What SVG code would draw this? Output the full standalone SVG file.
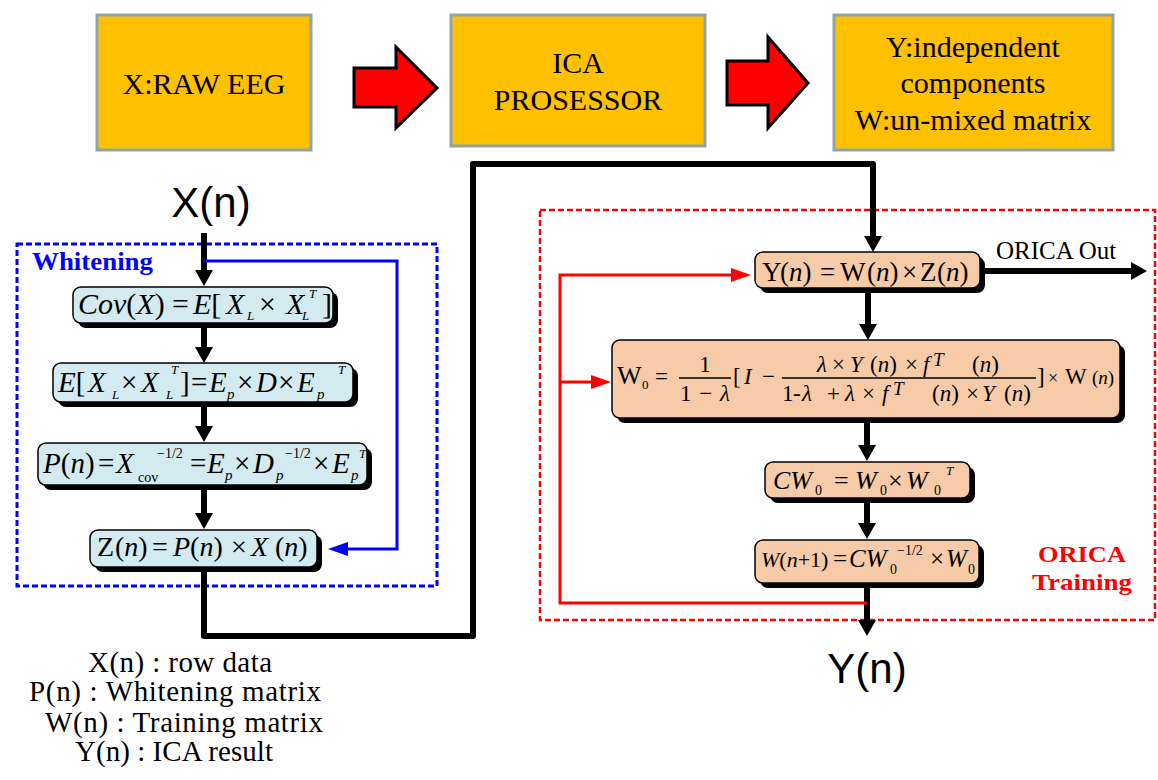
<svg xmlns="http://www.w3.org/2000/svg" width="1158" height="780" viewBox="0 0 1158 780">
<style>
.top{fill:#FFC000;stroke:#8DA5AA;stroke-width:3}
.ra{fill:#FF0000;stroke:#000;stroke-width:3;stroke-linejoin:miter}
.bb{fill:#D3EAF0;stroke:#000;stroke-width:1.5}
.pb{fill:#F8CBA8;stroke:#000;stroke-width:1.5}
.sh{fill:#000}
.t30{font-family:"Liberation Serif",serif;font-size:30px;fill:#000;text-anchor:middle}
.m{font-family:"Liberation Serif",serif;font-style:italic;fill:#000}
.r{font-style:normal}
.big{font-family:"Liberation Sans",Arial,sans-serif;font-size:42px;fill:#000;text-anchor:middle}
.leg{font-family:"Liberation Serif",serif;font-size:29px;fill:#000}
.conn{fill:none;stroke:#000;stroke-width:6;stroke-linejoin:round}
.blue{fill:none;stroke:#0000FF;stroke-width:3}
.red{fill:none;stroke:#FF0000;stroke-width:3}
</style>
<defs>
<marker id="ah" markerUnits="userSpaceOnUse" markerWidth="16" markerHeight="18" refX="2" refY="9" orient="auto" viewBox="0 0 16 18"><path d="M0,0 L16,9 L0,18 z" fill="#000"/></marker>
<marker id="ahb" markerUnits="userSpaceOnUse" markerWidth="20" markerHeight="14" refX="1" refY="7" orient="auto" viewBox="0 0 20 14"><path d="M0,0 L20,7 L0,14 z" fill="#0000FF"/></marker>
<marker id="ahr" markerUnits="userSpaceOnUse" markerWidth="20" markerHeight="14" refX="1" refY="7" orient="auto" viewBox="0 0 20 14"><path d="M0,0 L20,7 L0,14 z" fill="#FF0000"/></marker>
</defs>
<rect width="1158" height="780" fill="#fff"/>

<g id="whitening-frame">
<rect x="17" y="244" width="420" height="342" fill="none" stroke="#0000FF" stroke-width="3" stroke-dasharray="6 3"/>
<text x="32" y="270" font-family="Liberation Serif,serif" font-weight="bold" font-size="25" fill="#0000FF" textLength="121" lengthAdjust="spacingAndGlyphs">Whitening</text>
</g>
<g id="orica-frame">
<rect x="540" y="210" width="615" height="410" fill="none" stroke="#FF0000" stroke-width="2.5" stroke-dasharray="6 3"/>
<text x="1082" y="562" font-family="Liberation Serif,serif" font-weight="bold" font-size="24" fill="#FF0000" text-anchor="middle" textLength="88" lengthAdjust="spacingAndGlyphs">ORICA</text>
<text x="1082" y="590" font-family="Liberation Serif,serif" font-weight="bold" font-size="24" fill="#FF0000" text-anchor="middle" textLength="100" lengthAdjust="spacingAndGlyphs">Training</text>
</g>

<g id="connectors">
<polygon class="ra" points="354,68 396,68 396,47 437,88 396,128 396,107 354,107"/>
<polygon class="ra" points="727,61 768,61 768,37 808,83 768,128 768,105 727,105"/>
<line class="conn" x1="204" y1="233" x2="204" y2="272" marker-end="url(#ah)"/>
<line class="conn" x1="204" y1="323" x2="204" y2="349" marker-end="url(#ah)"/>
<line class="conn" x1="204" y1="402" x2="204" y2="428" marker-end="url(#ah)"/>
<line class="conn" x1="204" y1="486" x2="204" y2="515" marker-end="url(#ah)"/>
<polyline class="blue" points="204,261 397,261 397,549 347,549" marker-end="url(#ahb)"/>
<polyline class="conn" points="204,565 204,636 473,636 473,164 873,164 873,238" marker-end="url(#ah)"/>
<line class="conn" x1="868" y1="288" x2="868" y2="326" marker-end="url(#ah)"/>
<line class="conn" x1="867" y1="418" x2="867" y2="447" marker-end="url(#ah)"/>
<line class="conn" x1="867" y1="498" x2="867" y2="525" marker-end="url(#ah)"/>
<line class="conn" x1="867" y1="583" x2="867" y2="622" marker-end="url(#ah)"/>
<line class="conn" x1="980" y1="271" x2="1133" y2="271" marker-end="url(#ah)"/>
<polyline class="red" points="867,603 560,603 560,275 732,275" marker-end="url(#ahr)"/>
<line class="red" x1="560" y1="382" x2="592" y2="382" marker-end="url(#ahr)"/>
</g>

<g id="raw-eeg">
<rect class="top" x="97" y="15" width="214" height="135"/>
<text class="t30" x="204" y="94">X:RAW EEG</text>
</g>
<g id="ica-processor">
<rect class="top" x="451" y="15" width="254" height="131"/>
<text class="t30" x="578" y="73">ICA</text>
<text class="t30" x="578" y="110">PROSESSOR</text>
</g>
<g id="ica-output">
<rect class="top" x="834" y="15" width="279" height="135"/>
<text class="t30" x="973" y="57">Y:independent</text>
<text class="t30" x="973" y="93">components</text>
<text class="t30" x="973" y="130">W:un-mixed matrix</text>
</g>

<g id="xn-label"><text class="big" x="211" y="217">X(n)</text></g>
<g id="yn-label"><text class="big" x="867" y="683">Y(n)</text></g>

<g id="cov">
<rect class="sh" x="78" y="292" width="260" height="36" rx="8"/>
<rect class="bb" x="73" y="287" width="260" height="36" rx="8"/>
<text class="m" style="font-size:30px" y="314"><tspan x="78">Cov</tspan><tspan class="r">(</tspan>X<tspan class="r">)</tspan><tspan x="172" class="r">=</tspan><tspan x="193">E</tspan><tspan class="r">[</tspan><tspan x="226">X</tspan><tspan x="259" class="r">×</tspan><tspan x="286">X</tspan><tspan x="322" class="r">]</tspan></text>
<text class="m" style="font-size:13px" y="320"><tspan x="247">L</tspan><tspan x="302">L</tspan></text>
<text class="m" style="font-size:13px" x="309" y="298">T</text>
</g>
<g id="eig">
<rect class="sh" x="58" y="368" width="300" height="39" rx="8"/>
<rect class="bb" x="53" y="363" width="300" height="39" rx="8"/>
<text class="m" style="font-size:29px" y="392"><tspan x="58">E</tspan><tspan class="r">[</tspan><tspan x="88">X</tspan><tspan x="121" class="r">×</tspan><tspan x="141">X</tspan><tspan x="180" class="r">]</tspan><tspan x="191" class="r">=</tspan><tspan x="209">E</tspan><tspan x="237" class="r">×</tspan><tspan x="256">D</tspan><tspan x="278" class="r">×</tspan><tspan x="297">E</tspan></text>
<text class="m" style="font-size:13px" y="399"><tspan x="112">L</tspan><tspan x="166">L</tspan></text>
<text class="m" style="font-size:13px" y="374"><tspan x="171">T</tspan><tspan x="338">T</tspan></text>
<text class="m" style="font-size:15px" y="399"><tspan x="227">p</tspan><tspan x="317">p</tspan></text>
</g>
<g id="pn">
<rect class="sh" x="43" y="448" width="329" height="42" rx="8"/>
<rect class="bb" x="38" y="443" width="329" height="42" rx="8"/>
<text class="m" style="font-size:29px" y="473"><tspan x="43">P</tspan><tspan class="r">(</tspan>n<tspan class="r">)</tspan><tspan x="98" class="r">=</tspan><tspan x="116">X</tspan><tspan x="190" class="r">=</tspan><tspan x="207">E</tspan><tspan x="234" class="r">×</tspan><tspan x="253">D</tspan><tspan x="313" class="r">×</tspan><tspan x="332">E</tspan></text>
<text class="m r" style="font-size:14px" x="138" y="482">cov</text>
<text class="m r" style="font-size:14px" y="458"><tspan x="157">−1/2</tspan><tspan x="285">−1/2</tspan></text>
<text class="m" style="font-size:15px" y="480"><tspan x="225">p</tspan><tspan x="276">p</tspan><tspan x="351">p</tspan></text>
<text class="m" style="font-size:13px" x="359" y="458">T</text>
</g>
<g id="zn">
<rect class="sh" x="95" y="535" width="227" height="37" rx="8"/>
<rect class="bb" x="90" y="530" width="227" height="37" rx="8"/>
<text class="m" style="font-size:28px" y="556"><tspan x="97" class="r">Z</tspan><tspan x="115" class="r">(</tspan>n<tspan class="r">)</tspan><tspan x="152" class="r">=</tspan><tspan x="173">P</tspan><tspan class="r">(</tspan>n<tspan class="r">)</tspan><tspan x="231" class="r">×</tspan><tspan x="251">X</tspan><tspan x="275" class="r">(</tspan>n<tspan class="r">)</tspan></text>
</g>

<g id="yn">
<rect class="sh" x="760" y="257" width="225" height="36" rx="8"/>
<rect class="pb" x="755" y="252" width="225" height="36" rx="8"/>
<text class="m" style="font-size:27px" y="281"><tspan x="762" class="r">Y</tspan><tspan x="780" class="r">(</tspan>n<tspan class="r">)</tspan><tspan x="820" class="r">=</tspan><tspan x="840" class="r">W</tspan><tspan x="867" class="r">(</tspan>n<tspan class="r">)</tspan><tspan x="902" class="r">×</tspan><tspan x="920" class="r">Z</tspan><tspan x="937" class="r">(</tspan>n<tspan class="r">)</tspan></text>
</g>
<g id="orica-out"><text x="996" y="259" font-family="Liberation Serif,serif" font-size="25" fill="#000">ORICA Out</text></g>
<g id="w0">
<rect class="sh" x="617" y="345" width="508" height="78" rx="8"/>
<rect class="pb" x="612" y="340" width="508" height="78" rx="8"/>
<text class="m r" style="font-size:26px" x="617" y="384">W</text>
<text class="m r" style="font-size:13px" x="642" y="389">0</text>
<text class="m r" style="font-size:23px" x="655" y="384">=</text>
<text class="m r" style="font-size:23px" x="705" y="372" text-anchor="middle">1</text>
<line x1="679" y1="378" x2="731" y2="378" stroke="#000" stroke-width="1.3"/>
<text class="m r" style="font-size:23px" x="680" y="401" textLength="50" lengthAdjust="spacing">1 − <tspan style="font-style:italic">λ</tspan></text>
<text class="m" style="font-size:23px" y="384"><tspan x="733" class="r">[</tspan><tspan x="744">I</tspan><tspan x="762" class="r">−</tspan></text>
<line x1="782" y1="378" x2="1036" y2="378" stroke="#000" stroke-width="1.3"/>
<text class="m" style="font-size:23px" y="372"><tspan x="817">λ</tspan><tspan x="832" class="r">×</tspan><tspan x="850">Y</tspan><tspan x="870" class="r">(</tspan>n<tspan class="r">)</tspan><tspan x="905" class="r">×</tspan><tspan x="923">f</tspan><tspan x="972" class="r">(</tspan>n<tspan class="r">)</tspan></text>
<text class="m" style="font-size:19px" x="933" y="366">T</text>
<text class="m" style="font-size:23px" y="401"><tspan x="782" class="r">1</tspan><tspan x="793" class="r">-</tspan><tspan x="802">λ</tspan><tspan x="827" class="r">+</tspan><tspan x="845">λ</tspan><tspan x="862" class="r">×</tspan><tspan x="882">f</tspan><tspan x="932" class="r">(</tspan>n<tspan class="r">)</tspan><tspan x="966" class="r">×</tspan><tspan x="982">Y</tspan><tspan x="1004" class="r">(</tspan>n<tspan class="r">)</tspan></text>
<text class="m" style="font-size:19px" x="893" y="395">T</text>
<text class="m" style="font-size:23px" y="384"><tspan x="1037" class="r">]</tspan><tspan x="1048" class="r" style="font-size:18px">×</tspan><tspan x="1065" class="r">W</tspan><tspan x="1092" class="r" style="font-size:19px">(</tspan><tspan style="font-size:19px">n</tspan><tspan class="r" style="font-size:19px">)</tspan></text>
</g>
<g id="cw0">
<rect class="sh" x="770" y="467" width="205" height="36" rx="8"/>
<rect class="pb" x="765" y="462" width="205" height="36" rx="8"/>
<text class="m" style="font-size:26px" y="489"><tspan x="773">CW</tspan><tspan x="834" class="r">=</tspan><tspan x="855">W</tspan><tspan x="888" class="r">×</tspan><tspan x="906">W</tspan></text>
<text class="m r" style="font-size:14px" y="495"><tspan x="815">0</tspan><tspan x="880">0</tspan><tspan x="934">0</tspan></text>
<text class="m" style="font-size:13px" x="946" y="475">T</text>
</g>
<g id="wn1">
<rect class="sh" x="760" y="545" width="224" height="43" rx="8"/>
<rect class="pb" x="755" y="540" width="224" height="43" rx="8"/>
<text class="m" style="font-size:22px" x="761" y="567">W<tspan class="r">(</tspan>n<tspan class="r">+1)</tspan></text>
<text class="m" style="font-size:25px" y="567"><tspan x="833" class="r">=</tspan><tspan x="849">CW</tspan><tspan x="930" class="r">×</tspan><tspan x="946">W</tspan></text>
<text class="m r" style="font-size:14px" y="574"><tspan x="890">0</tspan><tspan x="968">0</tspan></text>
<text class="m r" style="font-size:14px" x="897" y="555">−1/2</text>
</g>

<g id="legend">
<text class="leg" x="88" y="672" textLength="184" lengthAdjust="spacing">X(n) : row data</text>
<text class="leg" x="29" y="701" textLength="292" lengthAdjust="spacing">P(n) : Whitening matrix</text>
<text class="leg" x="45" y="732" textLength="278" lengthAdjust="spacing">W(n) : Training matrix</text>
<text class="leg" x="75" y="761" textLength="198" lengthAdjust="spacing">Y(n) : ICA result</text>
</g>
</svg>
